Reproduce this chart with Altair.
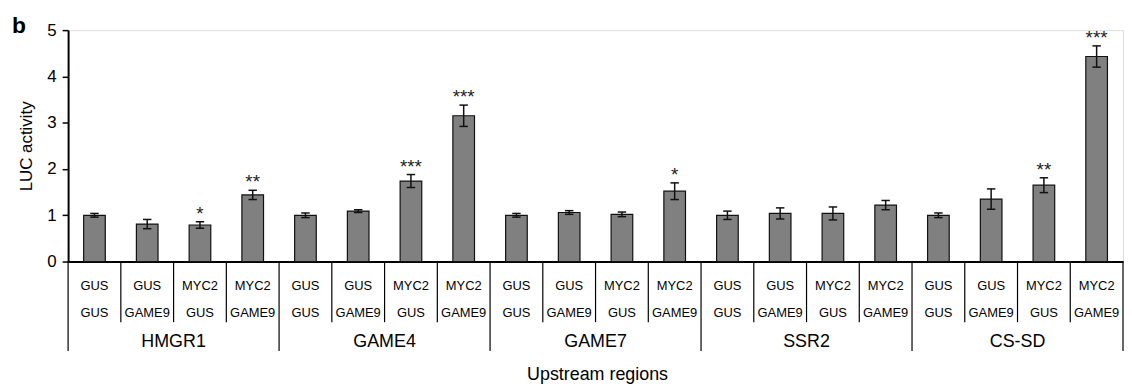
import altair as alt
import pandas as pd

regions = ["HMGR1", "GAME4", "GAME7", "SSR2", "CS-SD"]
row1 = ["GUS", "GUS", "MYC2", "MYC2"]
row2 = ["GUS", "GAME9", "GUS", "GAME9"]
values = [1.00, 0.81, 0.79, 1.44,
          1.00, 1.09, 1.74, 3.15,
          1.00, 1.06, 1.02, 1.52,
          1.00, 1.04, 1.04, 1.22,
          1.00, 1.35, 1.65, 4.43]
errors = [0.04, 0.10, 0.07, 0.10,
          0.05, 0.03, 0.14, 0.23,
          0.04, 0.04, 0.05, 0.18,
          0.09, 0.12, 0.14, 0.10,
          0.05, 0.22, 0.16, 0.23]
stars = ["", "", "*", "**",
         "", "", "***", "***",
         "", "", "", "*",
         "", "", "", "",
         "", "", "**", "***"]
y_ticks = [0, 1, 2, 3, 4, 5]
y_title = "LUC activity"
x_title = "Upstream regions"
panel = "b"

FONT = "Liberation Sans"
W, H = 1062, 233
n = len(values)

rows = []
for i in range(n):
    rows.append({
        "i": i, "c": i + 0.5, "b0": i + 0.295, "b1": i + 0.705,
        "k0": i + 0.42, "k1": i + 0.58,
        "v": values[i], "lo": values[i] - errors[i], "hi": values[i] + errors[i],
        "star": stars[i], "r1": row1[i % 4], "r2": row2[i % 4],
    })
df = pd.DataFrame(rows)

inner = pd.DataFrame({"xb": [i for i in range(1, n) if i % 4 != 0]})
outer = pd.DataFrame({"xb": [i for i in range(0, n + 1, 4)]})
grp = pd.DataFrame({"g": regions, "gc": [4 * k + 2 for k in range(len(regions))]})
txt = pd.DataFrame({"t": [x_title], "p": [panel]})

xs = alt.Scale(domain=[0, n], nice=False, zero=False)
ys = alt.Scale(domain=[0, 5], nice=False)

base = alt.Chart(df)

bars = base.mark_bar(fill="#808080", stroke="#111111", strokeWidth=1.2).encode(
    x=alt.X("b0:Q", scale=xs, axis=alt.Axis(labels=False, ticks=False, title=None, grid=False,
                                             domainColor="black", domainWidth=2)),
    x2="b1:Q",
    y=alt.Y("v:Q", scale=ys, axis=alt.Axis(values=y_ticks, title=y_title, grid=False,
                                            labelFont=FONT, labelFontSize=17, labelColor="black",
                                            tickColor="black", tickSize=6, tickWidth=1.5,
                                            domainColor="black", domainWidth=2, labelPadding=6,
                                            titleFont=FONT, titleFontSize=17, titleFontWeight="normal",
                                            titleColor="black", titlePadding=11)),
    y2=alt.datum(0),
)
err = base.mark_rule(color="#111111", strokeWidth=1.5).encode(
    x=alt.X("c:Q", scale=xs), y=alt.Y("lo:Q", scale=ys), y2="hi:Q")
cap_hi = base.mark_rule(color="#111111", strokeWidth=1.5).encode(
    x=alt.X("k0:Q", scale=xs), x2="k1:Q", y=alt.Y("hi:Q", scale=ys))
cap_lo = base.mark_rule(color="#111111", strokeWidth=1.5).encode(
    x=alt.X("k0:Q", scale=xs), x2="k1:Q", y=alt.Y("lo:Q", scale=ys))
star_t = base.mark_text(font=FONT, fontSize=19, color="#222222", baseline="alphabetic", dy=-2).encode(
    x=alt.X("c:Q", scale=xs), y=alt.Y("hi:Q", scale=ys), text="star:N")

lab1 = base.mark_text(font=FONT, fontSize=13, color="black", baseline="middle").encode(
    x=alt.X("c:Q", scale=xs), y=alt.value(H + 25), text="r1:N")
lab2 = base.mark_text(font=FONT, fontSize=13, color="black", baseline="middle").encode(
    x=alt.X("c:Q", scale=xs), y=alt.value(H + 51.5), text="r2:N")

sep_in = alt.Chart(inner).mark_rule(color="black", strokeWidth=1.2).encode(
    x=alt.X("xb:Q", scale=xs), y=alt.value(H), y2=alt.value(H + 61))
sep_out = alt.Chart(outer).mark_rule(color="black", strokeWidth=1.2).encode(
    x=alt.X("xb:Q", scale=xs), y=alt.value(H), y2=alt.value(H + 90))
glab = alt.Chart(grp).mark_text(font=FONT, fontSize=18, color="black", baseline="middle").encode(
    x=alt.X("gc:Q", scale=xs), y=alt.value(H + 81), text="g:N")

xt = alt.Chart(txt).mark_text(font=FONT, fontSize=18, color="black", baseline="middle").encode(
    x=alt.value(W / 2 + 2), y=alt.value(H + 114), text="t:N")
pl = alt.Chart(txt).mark_text(font=FONT, fontSize=23, fontWeight="bold", color="black",
                              baseline="alphabetic", align="left").encode(
    x=alt.value(-56.5), y=alt.value(3), text="p:N")

chart = alt.layer(bars, err, cap_hi, cap_lo, star_t, lab1, lab2, sep_in, sep_out, glab, xt, pl).properties(
    width=W, height=H,
    autosize=alt.AutoSizeParams(type="none"),
    padding={"left": 60.5, "right": 1, "top": 21, "bottom": 126},
).configure_view(stroke=None).configure(background="white")

chart.save("out.html", embed_options={"renderer": "svg", "actions": False})
